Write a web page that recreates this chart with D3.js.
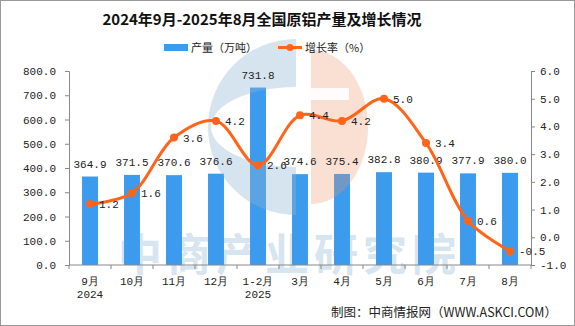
<!DOCTYPE html>
<html><head><meta charset="utf-8">
<script src="https://cdn.jsdelivr.net/npm/d3@7/dist/d3.min.js"></script>
<style>body{margin:0;background:#fff}svg{display:block}</style>
</head><body>
<svg id="c" width="575" height="326"></svg>
<script>
const categories = ["9月","10月","11月","12月","1-2月","3月","4月","5月","6月","7月","8月"];
const yearLabels = ["2024","","","","2025","","","","","",""];
const output = [364.9,371.5,370.6,376.6,731.8,374.6,375.4,382.8,380.9,377.9,380.0];
const growth = [1.2,1.6,3.6,4.2,2.6,4.4,4.2,5.0,3.4,0.6,-0.5];
const leftTicks = [0,100,200,300,400,500,600,700,800];
const rightTicks = [-1,0,1,2,3,4,5,6];

const svg = d3.select("#c");
const W=575,H=326;
const mono = "'Liberation Mono','DejaVu Sans Mono',monospace";
const cjk = "'Noto Sans CJK SC','Noto Sans',sans-serif";
const barColor="#3d9bed", lineColor="#ff6418", axisColor="#888";

svg.append("rect").attr("x",0.5).attr("y",0.5).attr("width",W-1).attr("height",H-1).attr("fill","#fff").attr("stroke","#999");

const x = d3.scaleBand().domain(categories).range([69,531]).paddingInner(0.62).paddingOuter(0.31);
const step = x.step();
const yL = d3.scaleLinear().domain([0,800]).range([265,71]);
const yR = d3.scaleLinear().domain([-1,6]).range([265,71]);

// watermark text (behind bars)
svg.append("text").attr("x",118).attr("y",271).attr("font-family",cjk).attr("font-weight","bold")
  .attr("font-size",44).attr("letter-spacing",5).attr("fill","#d6e5ef").text("中商产业研究院");

// bars
svg.selectAll("rect.bar").data(output).join("rect").attr("class","bar")
  .attr("x",(d,i)=>x(categories[i])).attr("width",x.bandwidth())
  .attr("y",d=>yL(d)).attr("height",d=>yL(0)-yL(d)).attr("fill",barColor);

// logo watermark (over bars)
const logo = svg.append("g");
const cx=296, cy=127;
const outerR=88;
const pathC = `M${cx},${cy-outerR} A${outerR},${outerR} 0 0 0 ${cx},${cy+outerR} L${cx},${cy+40} A85,40 0 0 1 ${cx},${cy-40} Z`;
logo.append("path").attr("d",pathC).attr("fill","rgba(140,180,210,0.36)");
const px=311;
const peach = `M${px},${cy-77} A57,77 0 0 1 ${px},${cy+77} Z`;
logo.append("path").attr("d",peach).attr("fill","rgba(240,150,110,0.3)");
logo.append("rect").attr("x",px).attr("y",88).attr("width",38).attr("height",12).attr("fill","#fff").attr("opacity",0.9);

// axes
const gx = svg.append("g").attr("transform","translate(0,265)");
gx.append("line").attr("x1",69).attr("x2",531).attr("stroke",axisColor);
d3.range(categories.length+1).forEach(i=>{
  const xx = 69+i*step;
  gx.append("line").attr("x1",xx).attr("x2",xx).attr("y1",0).attr("y2",4).attr("stroke",axisColor);
});
svg.selectAll("text.cat").data(categories).join("text").attr("class","cat")
  .attr("x",d=>x(d)+x.bandwidth()/2).attr("y",285).attr("text-anchor","middle")
  .attr("font-family",mono).attr("font-size",11).attr("fill","#222").text(d=>d);
const yrs = yearLabels.map((t,i)=>({t,i})).filter(d=>d.t!=="");
svg.selectAll("text.yr").data(yrs).join("text").attr("class","yr")
  .attr("x",d=>x(categories[d.i])+x.bandwidth()/2).attr("y",298).attr("text-anchor","middle")
  .attr("font-family",mono).attr("font-size",11).attr("fill","#222").text(d=>d.t);

const axL = d3.axisLeft(yL).tickValues(leftTicks).tickSize(4).tickPadding(9).tickFormat(d3.format(".1f"));
const gL = svg.append("g").attr("transform","translate(69,0)").call(axL);
const axR = d3.axisRight(yR).tickValues(rightTicks).tickSize(4).tickPadding(5).tickFormat(d=>d3.format(".1f")(d).replace("−","-"));
const gR = svg.append("g").attr("transform","translate(531,0)").call(axR);
[gL,gR].forEach(g=>{
  g.select(".domain").attr("stroke",axisColor);
  g.selectAll(".tick line").attr("stroke",axisColor);
  g.selectAll(".tick text").attr("font-family",mono).attr("font-size",11).attr("fill","#222");
});

// bar labels
svg.selectAll("text.bl").data(output).join("text").attr("class","bl")
  .attr("x",(d,i)=>x(categories[i])+x.bandwidth()/2).attr("y",d=>yL(d)-9)
  .attr("text-anchor","middle").attr("font-family",mono).attr("font-size",11).attr("fill","#222")
  .text(d=>d.toFixed(1));

// line
const pts = growth.map((g,i)=>[x(categories[i])+x.bandwidth()/2, yR(g)]);
svg.append("path").attr("d",d3.line().curve(d3.curveCatmullRom.alpha(0.5))(pts))
  .attr("fill","none").attr("stroke",lineColor).attr("stroke-width",3);
svg.selectAll("circle.pt").data(pts).join("circle").attr("class","pt")
  .attr("cx",d=>d[0]).attr("cy",d=>d[1]).attr("r",4).attr("fill",lineColor);
svg.selectAll("text.gl").data(growth).join("text").attr("class","gl")
  .attr("x",(d,i)=>pts[i][0]+9).attr("y",(d,i)=>pts[i][1]+4)
  .attr("font-family",mono).attr("font-size",11).attr("fill","#222")
  .text(d=>d.toFixed(1));

// title
svg.append("text").attr("x",262).attr("y",25).attr("text-anchor","middle")
  .attr("font-family",cjk).attr("font-weight","bold").attr("font-size",15).attr("fill","#111")
  .text("2024年9月-2025年8月全国原铝产量及增长情况");

// legend
const lg = svg.append("g");
lg.append("rect").attr("x",164).attr("y",44).attr("width",24).attr("height",7).attr("fill",barColor);
lg.append("text").attr("x",191).attr("y",51.5).attr("font-family",cjk).attr("font-size",11).attr("fill","#222").text("产量（万吨）");
lg.append("line").attr("x1",278).attr("x2",302).attr("y1",47.5).attr("y2",47.5).attr("stroke",lineColor).attr("stroke-width",3);
lg.append("circle").attr("cx",290).attr("cy",47.5).attr("r",3.5).attr("fill",lineColor);
lg.append("text").attr("x",305).attr("y",51.5).attr("font-family",cjk).attr("font-size",11).attr("fill","#222").text("增长率（%）");

// source
svg.append("text").attr("x",557).attr("y",317).attr("text-anchor","end")
  .attr("font-family",cjk).attr("font-size",12.5).attr("fill","#222").text("制图：中商情报网（WWW.ASKCI.COM）");
</script>
</body></html>
